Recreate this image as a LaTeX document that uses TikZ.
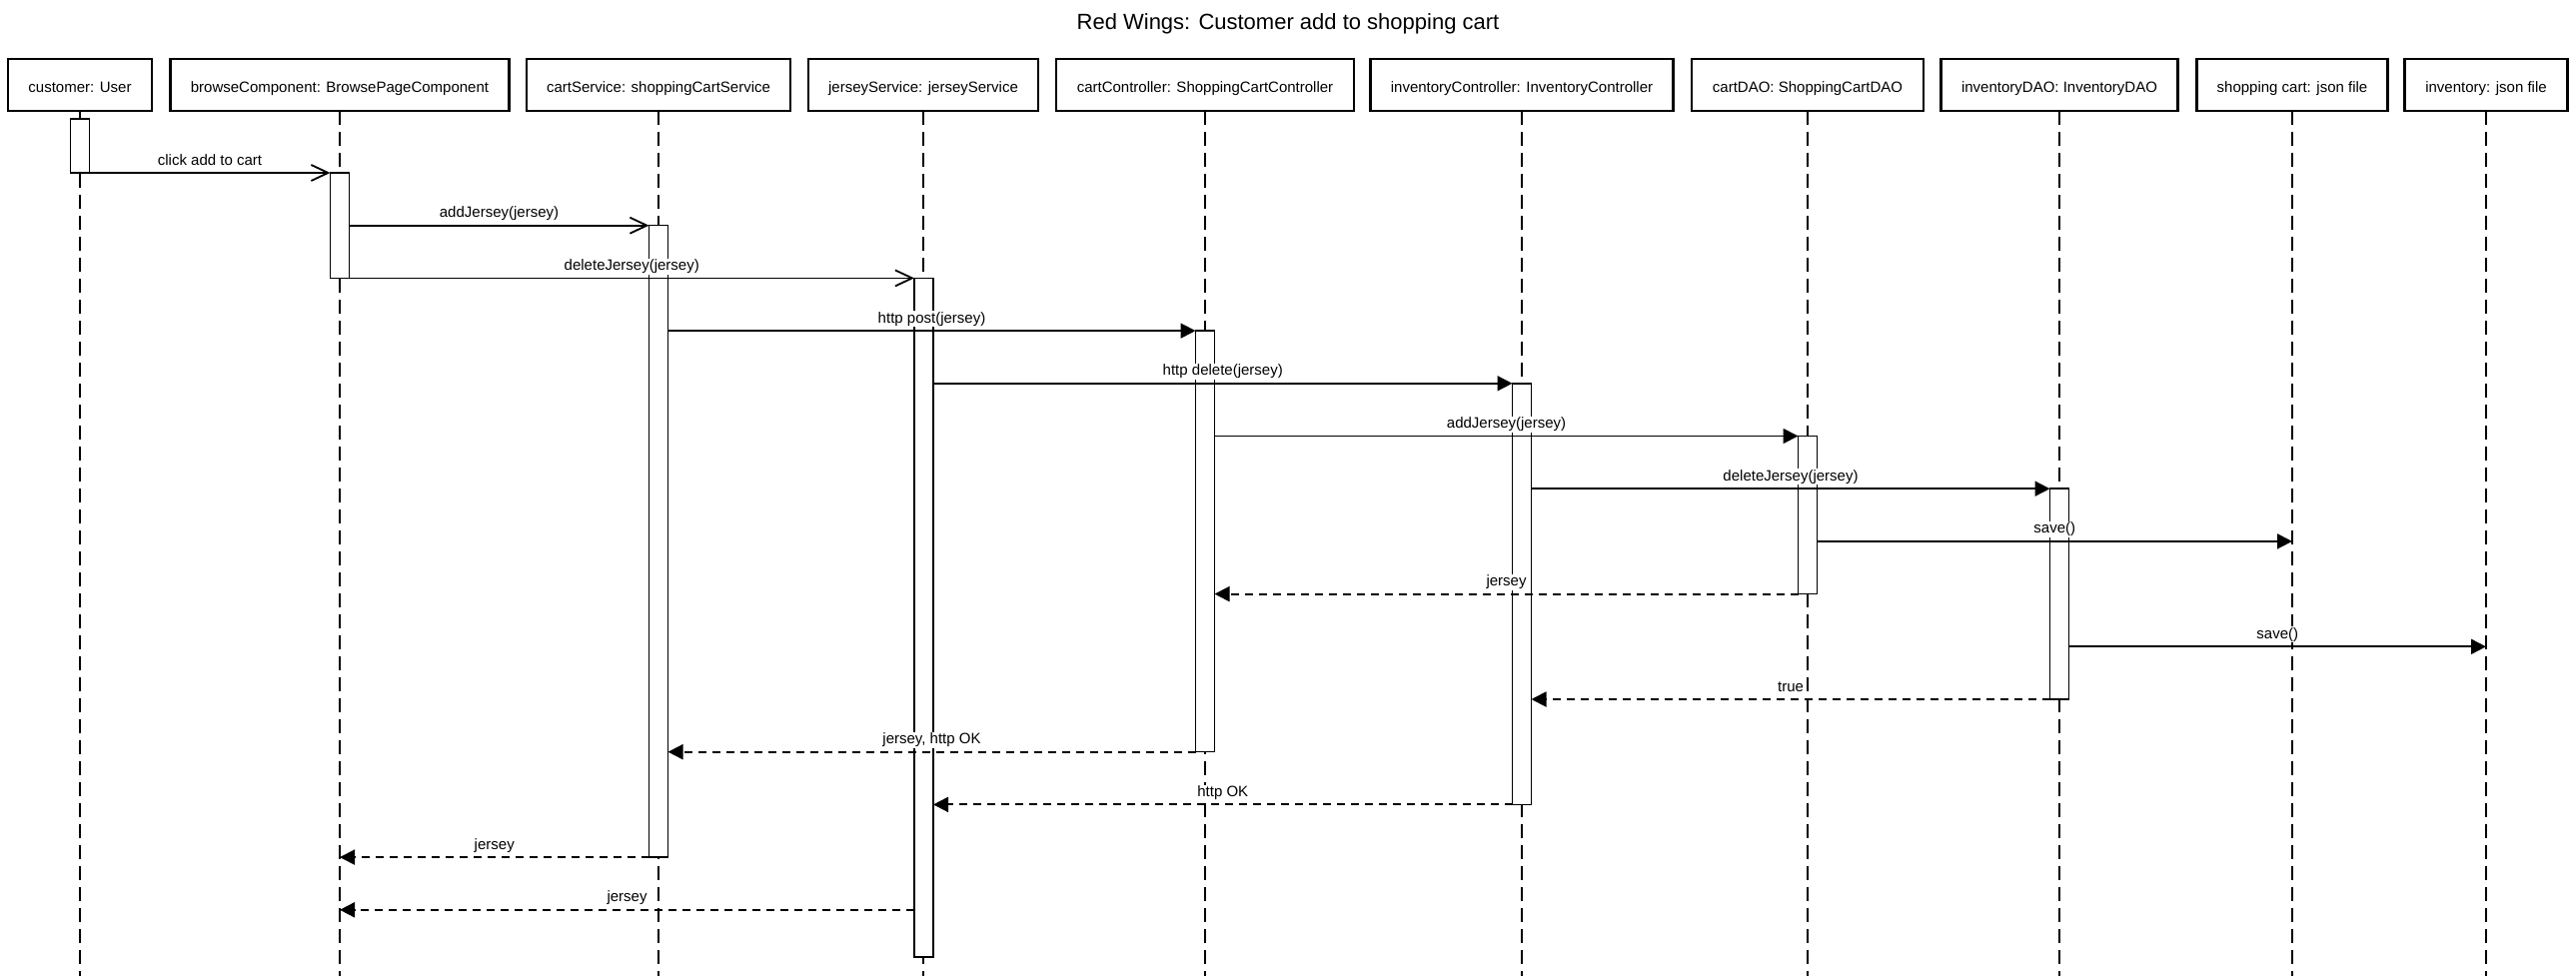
\documentclass[tikz,border=0pt]{standalone}
\usepackage{fontspec}
\setmainfont{Liberation Sans}
\usetikzlibrary{arrows.meta}
\begin{document}
\begin{tikzpicture}[x=1pt,y=-1pt,
  obj/.style={draw, line width=2.2pt, minimum height=52pt, inner sep=0pt, outer sep=0pt,
    text height=15pt, text depth=0pt, font=\fontsize{15}{18}\selectfont, anchor=north},
  lifeline/.style={line width=1.6pt, dash pattern=on 14pt off 7pt},
  act/.style={draw, fill=white, line width=1.5pt, minimum width=19pt, inner sep=0pt, outer sep=0pt, anchor=north},
  call/.style={line width=1.8pt, -{Straight Barb[length=17pt,width=16pt]}},
  sync/.style={line width=1.8pt, -{Triangle[length=15pt,width=15pt]}},
  ret/.style={line width=1.9pt, dash pattern=on 8pt off 6pt, -{Triangle[length=15pt,width=15pt]}},
  lbl/.style={midway, anchor=base, yshift=8pt, fill=white, inner sep=1pt, font=\fontsize{15}{18}\selectfont}
]
\useasboundingbox (0,0) rectangle (2578,977);

% title
\node[anchor=base, font=\fontsize{22}{26}\selectfont, inner sep=0pt] (title) at (1289,29.5) {Red Wings: Customer add to shopping cart};

% objects
\node[obj, minimum width=144pt] (B1) at (80,59) {customer: User};
\node[obj, minimum width=339pt] (B2) at (340,59) {browseComponent: BrowsePageComponent};
\node[obj, minimum width=264pt] (B3) at (659,59) {cartService: shoppingCartService};
\node[obj, minimum width=230pt] (B4) at (924,59) {jerseyService: jerseyService};
\node[obj, minimum width=298pt] (B5) at (1206,59) {cartController: ShoppingCartController};
\node[obj, minimum width=303pt] (B6) at (1523,59) {inventoryController: InventoryController};
\node[obj, minimum width=232pt] (B7) at (1809,59) {cartDAO: ShoppingCartDAO};
\node[obj, minimum width=237pt] (B8) at (2061,59) {inventoryDAO: InventoryDAO};
\node[obj, minimum width=191pt] (B9) at (2294,59) {shopping cart: json file};
\node[obj, minimum width=163pt] (B10) at (2488,59) {inventory: json file};

% lifeline ends
\coordinate (E1) at (80,977);
\coordinate (E2) at (340,977);
\coordinate (E3) at (659,977);
\coordinate (E4) at (924,977);
\coordinate (E5) at (1206,977);
\coordinate (E6) at (1523,977);
\coordinate (E7) at (1809,977);
\coordinate (E8) at (2061,977);
\coordinate (E9) at (2294,977);
\coordinate (E10) at (2488,977);
\foreach \i in {1,...,10} { \draw[lifeline] (B\i.south) -- (E\i); }

% activations
\node[act, minimum height=54pt] (A1) at (80,119) {};
\node[act, minimum height=105.4pt] (A2) at (340,173) {};
\node[act, minimum height=632.4pt] (A3) at (659,225.7) {};
\node[act, minimum height=679.6pt] (A4) at (924.5,278.4) {};
\node[act, minimum height=421.6pt] (A5) at (1206,331.1) {};
\node[act, minimum height=421.6pt] (A6) at (1523,383.8) {};
\node[act, minimum height=158.1pt] (A7) at (1809,436.5) {};
\node[act, minimum height=210.8pt] (A8) at (2061,489.2) {};

% free message ends
\coordinate (T8) at (2294,541.9);
\coordinate (T10) at (2488,647.3);
\coordinate (T15) at (340,910.8);

% messages
\draw[call] (A1.south east) -- (A2.north west) node[lbl] {click add to cart};
\draw[call] (A2.east |- A3.north) -- (A3.north west) node[lbl] {addJersey(jersey)};
\draw[call] (A2.south east) -- (A4.north west) node[lbl] {deleteJersey(jersey)};
\draw[sync] (A3.east |- A5.north) -- (A5.north west) node[lbl] {http post(jersey)};
\draw[sync] (A4.east |- A6.north) -- (A6.north west) node[lbl] {http delete(jersey)};
\draw[sync] (A5.east |- A7.north) -- (A7.north west) node[lbl] {addJersey(jersey)};
\draw[sync] (A6.east |- A8.north) -- (A8.north west) node[lbl] {deleteJersey(jersey)};
\draw[sync] (A7.east |- T8) -- (T8) node[lbl] {save()};
\draw[ret] (A7.south west) -- (A5.east |- A7.south) node[lbl] {jersey};
\draw[sync] (A8.east |- T10) -- (T10) node[lbl] {save()};
\draw[ret] (A8.south west) -- (A6.east |- A8.south) node[lbl] {true};
\draw[ret] (A5.south west) -- (A3.east |- A5.south) node[lbl] {jersey, http OK};
\draw[ret] (A6.south west) -- (A4.east |- A6.south) node[lbl] {http OK};
\draw[ret] (A3.south west) -- (B2.south |- A3.south) node[lbl] {jersey};
\draw[ret] (A4.west |- T15) -- (T15) node[lbl] {jersey};
\end{tikzpicture}
\end{document}
